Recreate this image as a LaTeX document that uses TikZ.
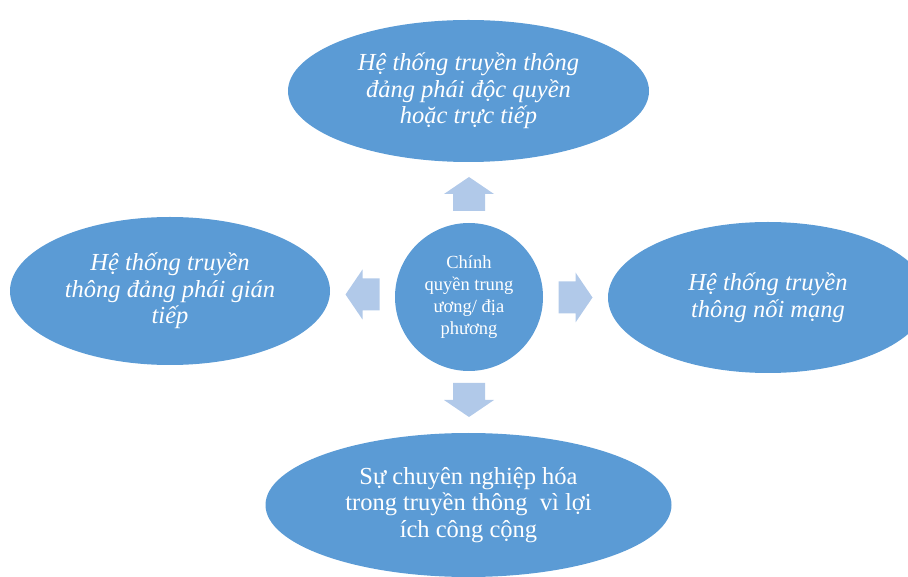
\documentclass[tikz,border=0pt]{standalone}
\usepackage{fontspec}
\setmainfont{Liberation Serif}
\usetikzlibrary{shapes.geometric}
\definecolor{blobblue}{HTML}{5B9BD5}
\definecolor{arrowblue}{HTML}{B1C9E9}
\begin{document}
\begin{tikzpicture}[x=1pt,y=1pt,
  blob/.style={ellipse,fill=blobblue,draw=none,text=white,align=center,inner sep=0pt},
  bigtext/.style={font=\fontsize{24.5}{26.5}\selectfont},
  bigit/.style={font=\fontsize{24.5}{26.5}\selectfont\itshape},
  blockarr/.pic={\fill[arrowblue] (-17,-16) -- (0,-16) -- (0,-25) -- (17,0)
     -- (0,25) -- (0,16) -- (-17,16) -- cycle;}]
\useasboundingbox (0,0) rectangle (908,576);
\node[circle,fill=blobblue,text=white,align=center,inner sep=0pt,minimum size=148,
  font=\fontsize{18.5}{22}\selectfont] (hub) at (469,279)
  {Chính\\quyền trung\\ương/ địa\\phương};
\node[blob,bigit,minimum width=361,minimum height=142] (top) at (468.5,485)
  {Hệ thống truyền thông\\đảng phái độc quyền\\hoặc trực tiếp};
\node[blob,bigtext,minimum width=406,minimum height=144] (bottom) at (468.5,71)
  {Sự chuyên nghiệp hóa\\trong truyền thông\ \ vì lợi\\ích công cộng};
\node[blob,bigit,minimum width=320,minimum height=148] (left) at (170,285)
  {Hệ thống truyền\\thông đảng phái gián\\tiếp};
\node[blob,bigit,minimum width=320,minimum height=151] (right) at (768,278.5)
  {Hệ thống truyền\\thông nối mạng};
\pic[rotate=90] (aup) at (469,382) {blockarr};
\pic[rotate=270] (adown) at (469,176) {blockarr};
\pic[rotate=180] (aleft) at (362.5,281.5) {blockarr};
\pic (aright) at (575.5,278.5) {blockarr};
\end{tikzpicture}
\end{document}
